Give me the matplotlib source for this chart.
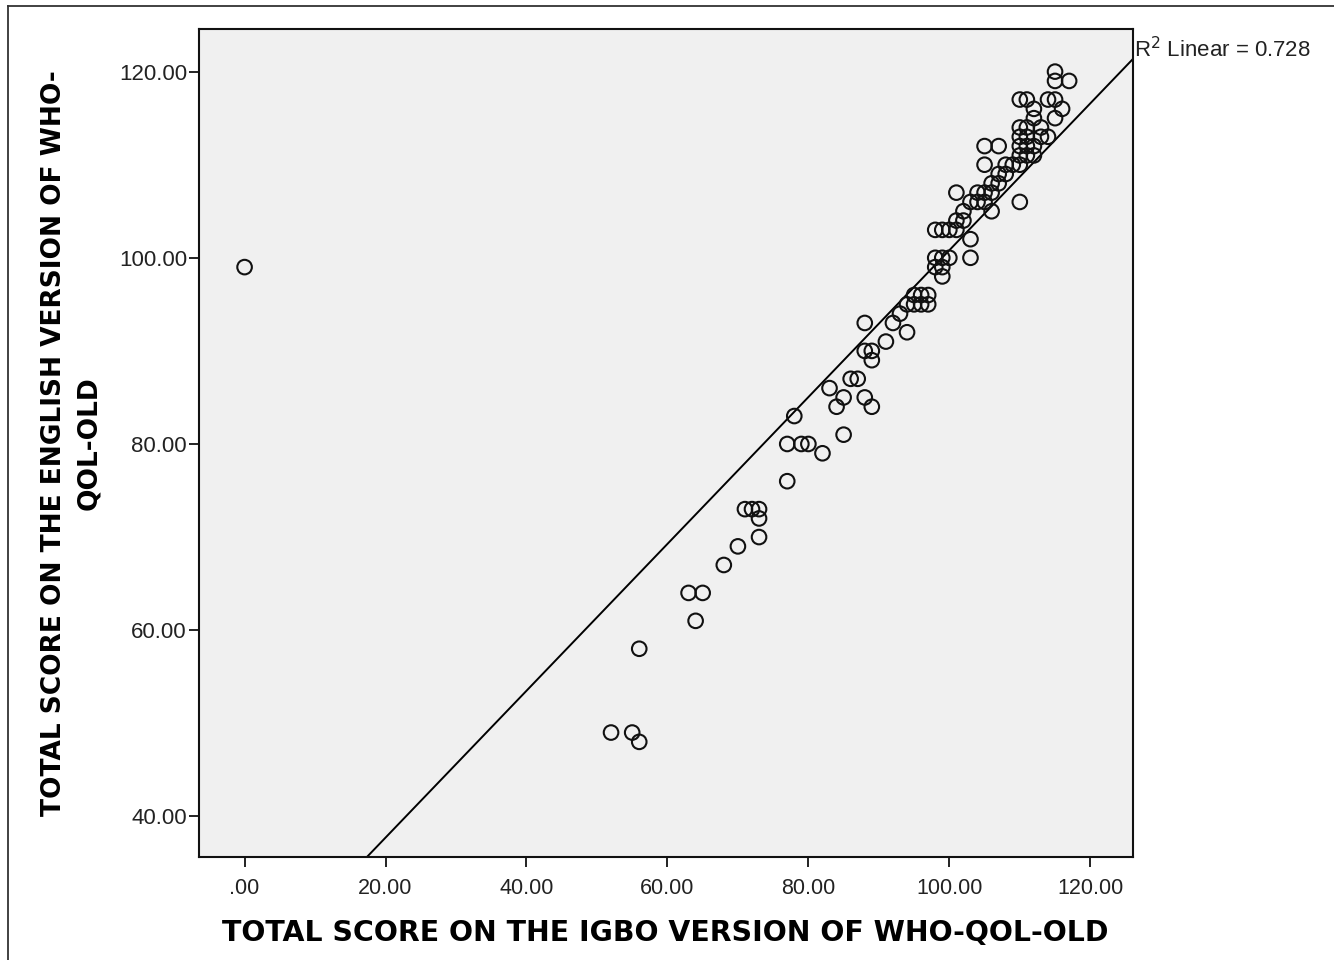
import numpy as np
import matplotlib
matplotlib.use("Agg")
import matplotlib.pyplot as plt
from matplotlib.lines import Line2D

# scores (igbo, english)
igbo = [0,
        52, 55, 56, 56,
        63, 65, 64, 68, 70,
        71, 72, 73, 73, 73,
        77, 77, 79, 80, 78, 82,
        83, 85, 84, 85, 86, 87, 88, 89,
        88, 88, 89, 89, 91, 92, 93, 94,
        95, 96, 97, 94, 95, 96, 97,
        98, 98, 99, 99, 100, 99, 100, 101, 102, 103, 103, 98, 99,
        101, 105, 107, 105, 110,
        101, 102, 103, 104, 104, 105, 106, 106, 107, 107, 108, 108, 109, 110,
        110, 111, 112, 110, 111, 112, 110, 111, 113, 110, 111, 113, 112, 115,
        112, 116, 110, 111, 114, 115, 115, 117, 115, 106, 105, 114]
english = [99,
           49, 49, 48, 58,
           64, 64, 61, 67, 69,
           73, 73, 73, 72, 70,
           76, 80, 80, 80, 83, 79,
           86, 81, 84, 85, 87, 87, 85, 84,
           93, 90, 90, 89, 91, 93, 94, 92,
           96, 96, 96, 95, 95, 95, 95,
           100, 103, 99, 98, 100, 103, 103, 103, 104, 100, 102, 99, 100,
           107, 112, 112, 110, 106,
           104, 105, 106, 106, 107, 107, 108, 107, 108, 109, 109, 110, 110, 110,
           111, 111, 111, 112, 112, 112, 113, 113, 113, 114, 114, 114, 115, 115,
           116, 116, 117, 117, 117, 117, 119, 119, 120, 105, 106, 113]

xticks = [0, 20, 40, 60, 80, 100, 120]
yticks = [40, 60, 80, 100, 120]

x = np.array(igbo, dtype=float)
y = np.array(english, dtype=float)
slope, intercept = np.polyfit(x, y, 1)

plt.rcParams['font.family'] = ['Liberation Sans', 'DejaVu Sans']

fig = plt.figure(figsize=(13.34, 9.6), dpi=100)
ax = fig.add_axes([0.149, 0.107, 0.700, 0.863])
ax.set_facecolor('#f0f0f0')

ax.scatter(x, y, s=110, facecolors='none', edgecolors='#111111', linewidths=1.5, zorder=3)

xlim = (-6.5, 126)
ylim = (35.6, 124.6)
xl = np.array(xlim)
ax.plot(xl, intercept + slope * xl, color='black', lw=1.4, zorder=2)

ax.set_xlim(*xlim)
ax.set_ylim(*ylim)
ax.set_xticks(xticks)
ax.set_yticks(yticks)
ax.set_xticklabels(['.00'] + ['%.2f' % v for v in xticks[1:]])
ax.set_yticklabels(['%.2f' % v for v in yticks])
ax.tick_params(direction='out', length=7, width=1.4, colors='#222222')
ax.tick_params(axis='y', labelsize=16, pad=1.5)
ax.tick_params(axis='x', labelsize=15.5, pad=8)
for s in ax.spines.values():
    s.set_linewidth(1.5)
    s.set_color('#111111')

ax.set_xlabel('TOTAL SCORE ON THE IGBO VERSION OF WHO-QOL-OLD', labelpad=14,
              family='DejaVu Sans', fontsize=20.4, fontweight='bold')
ax.set_ylabel('TOTAL SCORE ON THE ENGLISH VERSION OF WHO-\nQOL-OLD',
              labelpad=12, linespacing=1.45,
              family='DejaVu Sans', fontsize=19, fontweight='bold')

ax.text(1.002, 0.975, 'R$^2$ Linear = %.3f' % 0.728, transform=ax.transAxes,
        fontsize=16, ha='left', va='center', color='#222222')

# outer frame (top and left edges)
fig.add_artist(Line2D([0.006, 0.006], [0, 0.994], transform=fig.transFigure, color='#333333', lw=1.3))
fig.add_artist(Line2D([0.006, 1], [0.994, 0.994], transform=fig.transFigure, color='#333333', lw=1.3))

fig.savefig('out.png', dpi=100)
